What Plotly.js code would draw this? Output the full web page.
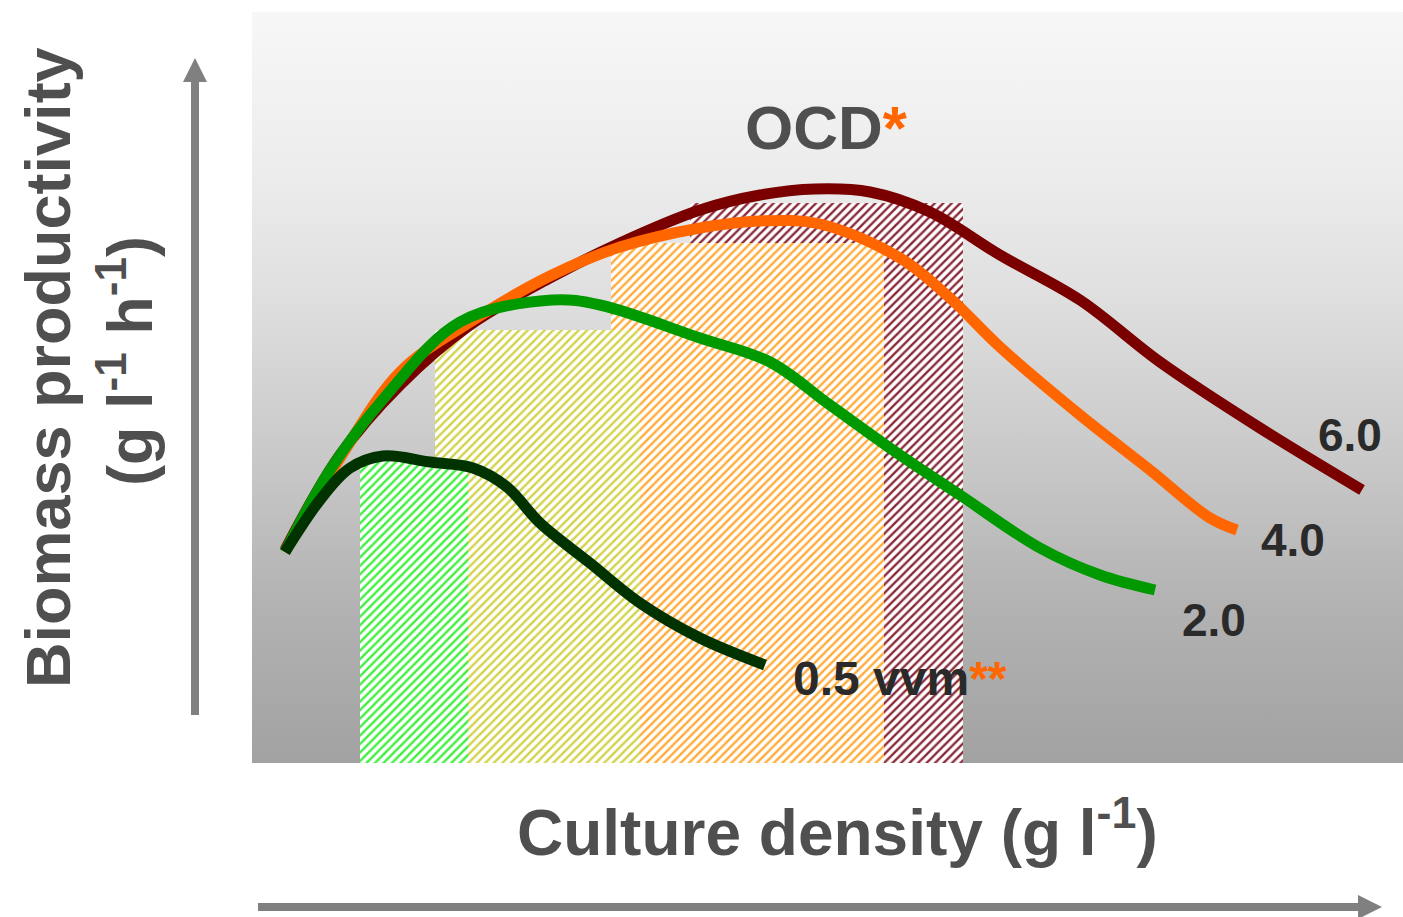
<!DOCTYPE html>
<html>
<head>
<meta charset="utf-8">
<script src="https://cdn.plot.ly/plotly-3.0.1.min.js"></script>
<style>html,body{margin:0;padding:0;background:#fff;}#chart{width:1403px;height:917px;}</style>
</head>
<body>
<div id="chart"></div>
<script>
// ---- data (arbitrary units) ----
const X_MAX = 11.51;
const Y_MAX = 7.51;

// aeration rates (vvm) and their curves
const rateLabels = ['6.0', '4.0', '2.0', '0.5 vvm'];

const x60 = [0.33, 0.88, 1.48, 2.18, 2.98, 3.68, 4.48, 5.08, 5.63, 6.18, 6.78, 7.48, 8.28, 9.08, 10.08, 11.10];
const y60 = [2.13, 3.08, 3.78, 4.38, 4.85, 5.20, 5.53, 5.68, 5.74, 5.71, 5.51, 5.08, 4.63, 4.01, 3.35, 2.73];

const x40 = [0.33, 0.88, 1.48, 2.18, 2.98, 3.68, 4.48, 5.08, 5.68, 6.48, 6.98, 7.48, 8.28, 8.98, 9.58, 9.85];
const y40 = [2.11, 3.05, 3.91, 4.41, 4.87, 5.16, 5.35, 5.42, 5.39, 5.05, 4.65, 4.16, 3.48, 2.93, 2.45, 2.33];

const x20 = [0.33, 0.78, 1.33, 2.08, 3.00, 3.48, 4.48, 5.18, 5.78, 6.48, 7.08, 7.88, 8.48, 9.03];
const y20 = [2.11, 2.93, 3.66, 4.41, 4.63, 4.58, 4.25, 4.01, 3.58, 3.08, 2.68, 2.15, 1.88, 1.73];

const x05 = [0.33, 0.68, 0.98, 1.31, 1.78, 2.21, 2.55, 2.88, 3.38, 3.88, 4.48, 5.13];
const y05 = [2.11, 2.63, 2.95, 3.07, 3.01, 2.95, 2.76, 2.40, 2.00, 1.60, 1.25, 0.98];

// optimal culture density (OCD) zones, drawn back to front
const zoneNames  = ['6.0 zone', '4.0 zone', '2.0 zone', '0.5 zone'];
const zoneLeft   = [4.38, 3.59, 1.83, 1.08];
const zoneRight  = [7.11, 6.32, 3.88, 2.16];
const zoneTop    = [5.60, 5.20, 4.33, 3.03];

// label anchor values
const labelX = [10.98, 10.41, 9.62, 5.39];
const labelY = [3.28, 2.23, 1.43, 0.85];
const ocdX = 4.91, ocdY = 6.36;

// ---- styles ----
const curveColors = ['#7a0000', '#ff6600', '#009900', '#003300'];
const zoneColors  = ['#8a2a3a', '#ffab3a', '#d2d24a', '#3ef03e'];
const FONT = 'Liberation Sans, Arial, Helvetica, sans-serif';
const ORANGE = '#ff6600';
const ARROW = '#808080';

const traces = [];

// hatched zones
zoneNames.forEach((n, i) => {
  traces.push({
    type: 'bar', name: n, hoverinfo: 'skip',
    x: [(zoneLeft[i] + zoneRight[i]) / 2],
    width: [zoneRight[i] - zoneLeft[i]],
    base: [0],
    y: [zoneTop[i]],
    marker: {
      color: 'white', line: {width: 0},
      pattern: {shape: '/', fgcolor: zoneColors[i], bgcolor: 'white', size: 6, solidity: 0.4, fillmode: 'replace'}
    }
  });
});

// curves
const curveX = [x60, x40, x20, x05];
const curveY = [y60, y40, y20, y05];
curveX.forEach((xs, i) => {
  traces.push({
    type: 'scatter', mode: 'lines', name: rateLabels[i], hoverinfo: 'skip',
    x: xs, y: curveY[i],
    line: {color: curveColors[i], width: 11, shape: 'spline', smoothing: 1}
  });
});

const annotations = [];
// curve labels
rateLabels.forEach((t, i) => {
  const last = i === 3;
  annotations.push({
    x: labelX[i], y: labelY[i], xref: 'x', yref: 'y', showarrow: false,
    xanchor: last ? 'left' : 'center', yanchor: 'middle',
    text: last ? t + '<span style="color:' + ORANGE + '">**</span>' : t,
    font: {family: FONT, size: last ? 48 : 46, color: '#2a2a2a', weight: 'bold'}
  });
});
// OCD label
annotations.push({
  x: ocdX, y: ocdY, xref: 'x', yref: 'y', showarrow: false,
  xanchor: 'left', yanchor: 'middle',
  text: 'OCD<span style="color:' + ORANGE + '">*</span>',
  font: {family: FONT, size: 62, color: '#4f4f4f', weight: 'bold'}
});
// axis titles (as free text, outside the plot)
annotations.push({
  x: (48 - 252) / 1151, y: (763 - 368) / 751, xref: 'paper', yref: 'paper', showarrow: false,
  textangle: -90, xanchor: 'center', yanchor: 'middle',
  text: 'Biomass productivity',
  font: {family: FONT, size: 63, color: '#4f4f4f', weight: 'bold'}
});
annotations.push({
  x: (125 - 252) / 1151, y: (763 - 361) / 751, xref: 'paper', yref: 'paper', showarrow: false,
  textangle: -90, xanchor: 'center', yanchor: 'middle',
  text: '(g l<sup>-1</sup> h<sup>-1</sup>)',
  font: {family: FONT, size: 63, color: '#4f4f4f', weight: 'bold'}
});
annotations.push({
  x: (837 - 252) / 1151, y: (763 - 828) / 751, xref: 'paper', yref: 'paper', showarrow: false,
  xanchor: 'center', yanchor: 'middle',
  text: 'Culture density (g l<sup>-1</sup>)',
  font: {family: FONT, size: 64, color: '#4f4f4f', weight: 'bold'}
});

// background gradient image (drawn below the traces)
const gradSvg = '<svg xmlns="http://www.w3.org/2000/svg" width="100" height="100" preserveAspectRatio="none">' +
  '<defs><linearGradient id="g" x1="0" y1="0" x2="0" y2="1">' +
  '<stop offset="0" stop-color="#f7f7f7"/><stop offset="0.22" stop-color="#ececec"/>' +
  '<stop offset="0.38" stop-color="#dfdfdf"/><stop offset="0.62" stop-color="#c6c6c6"/>' +
  '<stop offset="0.78" stop-color="#b3b3b3"/><stop offset="1" stop-color="#a2a2a2"/>' +
  '</linearGradient></defs><rect width="100" height="100" fill="url(#g)"/></svg>';

// arrows as shapes (pixel-sized heads anchored in paper coords)
const px = v => (v - 252) / 1151;   // page x -> paper x
const py = v => (763 - v) / 751;    // page y -> paper y
const shapes = [
  {type: 'line', xref: 'paper', yref: 'paper', x0: px(195), x1: px(195), y0: py(715), y1: py(78),
   line: {color: ARROW, width: 8}},
  {type: 'path', xref: 'paper', yref: 'paper', xsizemode: 'pixel', ysizemode: 'pixel',
   xanchor: px(195), yanchor: py(58), path: 'M -12 -24 L 12 -24 L 0 0 Z',
   fillcolor: ARROW, line: {width: 0}},
  {type: 'line', xref: 'paper', yref: 'paper', x0: px(258), x1: px(1362), y0: py(907), y1: py(907),
   line: {color: ARROW, width: 8}},
  {type: 'path', xref: 'paper', yref: 'paper', xsizemode: 'pixel', ysizemode: 'pixel',
   xanchor: px(1382), yanchor: py(907), path: 'M -24 -12 L -24 12 L 0 0 Z',
   fillcolor: ARROW, line: {width: 0}}
];

const layout = {
  width: 1403, height: 917,
  margin: {l: 252, r: 0, t: 12, b: 154, pad: 0},
  paper_bgcolor: 'white', plot_bgcolor: 'rgba(0,0,0,0)',
  showlegend: false, barmode: 'overlay',
  xaxis: {range: [0, X_MAX], visible: false, fixedrange: true},
  yaxis: {range: [0, Y_MAX], visible: false, fixedrange: true},
  images: [{
    source: 'data:image/svg+xml;base64,' + btoa(gradSvg),
    xref: 'paper', yref: 'paper', x: 0, y: 1, sizex: 1, sizey: 1,
    xanchor: 'left', yanchor: 'top', sizing: 'stretch', layer: 'below'
  }],
  shapes: shapes,
  annotations: annotations
};

Plotly.newPlot('chart', traces, layout, {displayModeBar: false, staticPlot: true});
</script>
</body>
</html>
